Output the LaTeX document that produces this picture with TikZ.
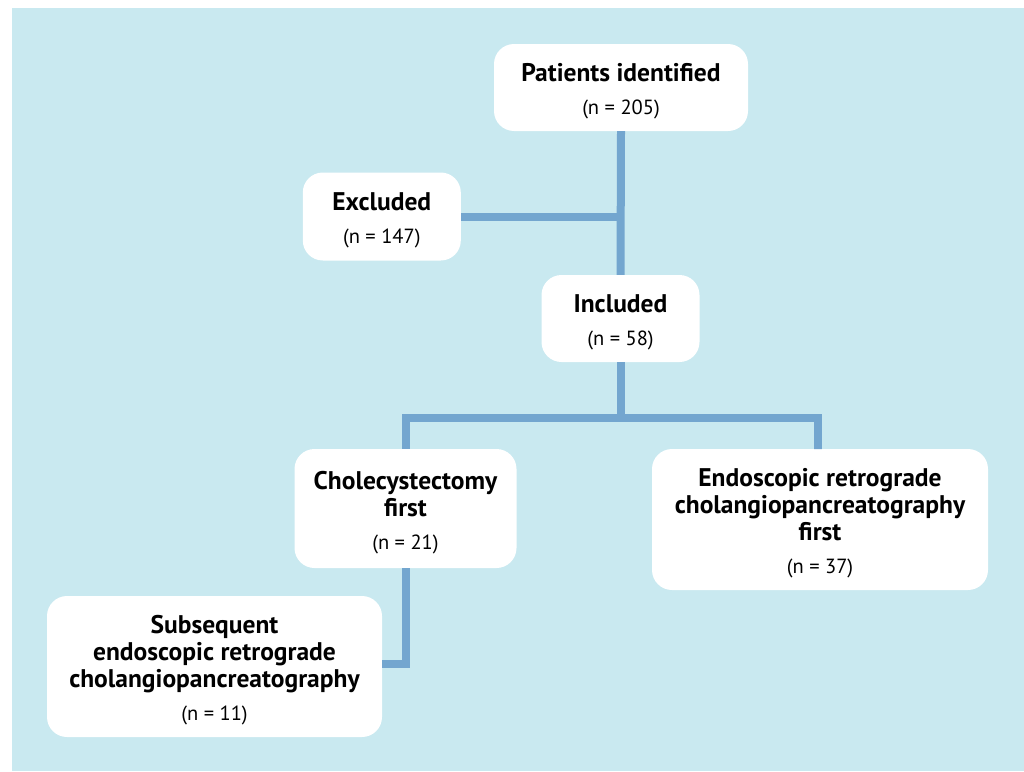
\documentclass[tikz,border=0pt]{standalone}
\usepackage{fontspec}
\setmainfont{PT Sans}
\definecolor{bgblue}{RGB}{201,233,240}
\definecolor{linkblue}{RGB}{115,166,207}
\newcommand{\bt}{\fontsize{25.5}{27}\selectfont\bfseries}
\newcommand{\nt}{\fontsize{20.5}{22}\selectfont\mdseries}
\newcommand{\tp}{\rule{0pt}{26pt}}
\begin{document}
\begin{tikzpicture}[x=1pt,y=-1pt,
  box/.style={draw=none,fill=white,rounded corners=20pt,align=center,inner sep=0pt,font=\bt},
  link/.style={draw=linkblue,line width=8pt,line join=miter}]
\useasboundingbox (0,0) rectangle (1024,771);
\fill[bgblue] (12,8) rectangle (1024,771);
\node[box,minimum width=254pt,minimum height=87pt] (pat) at (621,87.5) {\tp Patients identified\\[6pt]{\nt (n = 205)}};
\node[box,minimum width=158pt,minimum height=88pt] (exc) at (381.8,216.5) {\tp Excluded\\[6pt]{\nt (n = 147)}};
\node[box,minimum width=158pt,minimum height=87pt] (inc) at (620.5,318.5) {\tp Included\\[6pt]{\nt (n = 58)}};
\node[box,minimum width=222pt,minimum height=119pt] (cho) at (405.5,508.5) {\tp Cholecystectomy\\first\\[6pt]{\nt (n = 21)}};
\node[box,minimum width=336pt,minimum height=141pt] (ercp) at (820,519.5) {\tp Endoscopic retrograde\\cholangiopancreatography\\first\\[6pt]{\nt (n = 37)}};
\node[box,minimum width=335pt,minimum height=141pt] (sub) at (214.5,666.5) {\tp Subsequent\\endoscopic retrograde\\cholangiopancreatography\\[6pt]{\nt (n = 11)}};
\coordinate (j) at (620.5,418);
\draw[link] (pat.south) -- (inc.north);
\draw[link] (exc.east) -- (exc.east -| pat.south);
\draw[link] (inc.south) -- (j);
\draw[link] (cho.north) |- (j) -| (818.3,449) -- (ercp.north -| 818.3,0);
\draw[link] (cho.south) |- ([yshift=2.5pt]sub.east);
\end{tikzpicture}
\end{document}
